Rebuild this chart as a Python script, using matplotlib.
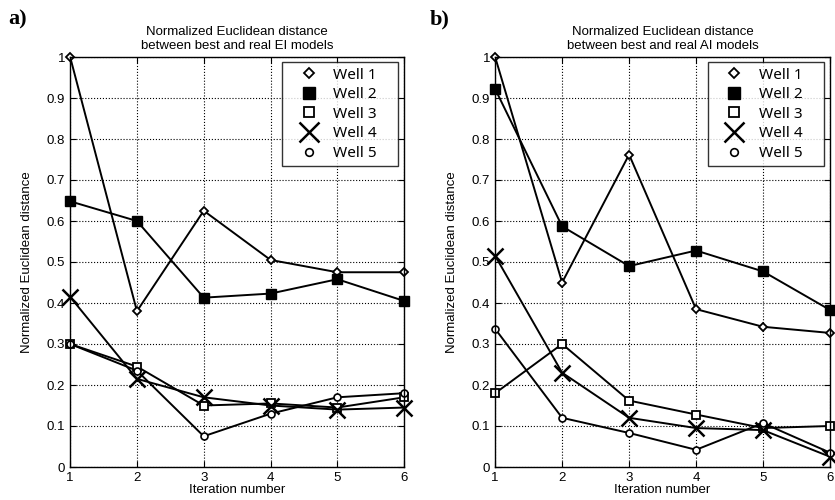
import numpy as np
import matplotlib.pyplot as plt

plt.rcParams['font.family'] = ['Liberation Sans', 'DejaVu Sans']

iterations = [1, 2, 3, 4, 5, 6]
labels = ['Well 1', 'Well 2', 'Well 3', 'Well 4', 'Well 5']

# EI models (panel a)
ei_well1 = [1.0, 0.38, 0.625, 0.505, 0.475, 0.475]
ei_well2 = [0.648, 0.60, 0.413, 0.423, 0.458, 0.405]
ei_well3 = [0.30, 0.245, 0.15, 0.155, 0.145, 0.17]
ei_well4 = [0.415, 0.215, 0.17, 0.15, 0.14, 0.145]
ei_well5 = [0.30, 0.235, 0.075, 0.13, 0.17, 0.18]

# AI models (panel b)
ai_well1 = [1.0, 0.45, 0.762, 0.385, 0.342, 0.327]
ai_well2 = [0.922, 0.587, 0.49, 0.528, 0.477, 0.383]
ai_well3 = [0.18, 0.30, 0.162, 0.128, 0.095, 0.10]
ai_well4 = [0.515, 0.23, 0.12, 0.095, 0.09, 0.025]
ai_well5 = [0.337, 0.12, 0.083, 0.042, 0.107, 0.035]

styles = [dict(marker='D', ms=4.5, mfc='white', mew=1.3),
          dict(marker='s', ms=7, mfc='black'),
          dict(marker='s', ms=6, mfc='white', mew=1.3),
          dict(marker='x', ms=11, mew=1.8),
          dict(marker='o', ms=5, mfc='white', mew=1.2)]
leg_sizes = [5.5, 8, 7, 14, 5.5]

fig = plt.figure(figsize=(8.35, 5), dpi=100)
ax1 = fig.add_axes([0.084, 0.066, 0.400, 0.820])
ax2 = fig.add_axes([0.593, 0.066, 0.401, 0.820])

panels = [(ax1, [ei_well1, ei_well2, ei_well3, ei_well4, ei_well5],
           'Normalized Euclidean distance\nbetween best and real EI models'),
          (ax2, [ai_well1, ai_well2, ai_well3, ai_well4, ai_well5],
           'Normalized Euclidean distance\nbetween best and real AI models')]

for ax, series, title in panels:
    for vals, lab, st in zip(series, labels, styles):
        ax.plot(iterations, vals, color='black', lw=1.4, mec='black',
                label=lab + '    ', clip_on=False, **st)
    ax.set_xlim(1, 6)
    ax.set_ylim(0, 1)
    ax.set_xticks(iterations)
    ax.set_yticks(np.arange(0, 1.01, 0.1))
    ax.set_yticklabels(['0', '0.1', '0.2', '0.3', '0.4', '0.5', '0.6', '0.7', '0.8', '0.9', '1'])
    ax.grid(True, linestyle=':', color='black', lw=0.8)
    ax.tick_params(direction='in', labelsize=9.5, length=4, top=True, right=True)
    for sp in ax.spines.values():
        sp.set_linewidth(1.0)
    ax.set_title(title, fontsize=9.5, pad=6)
    ax.set_xlabel('Iteration number', fontsize=9.5, labelpad=0)
    ax.set_ylabel('Normalized Euclidean distance', fontsize=9.5, labelpad=10)
    leg = ax.legend(loc='upper right', frameon=True, fancybox=False,
                    prop={'family': 'Noto Sans', 'size': 11},
                    edgecolor='black', handlelength=2.8, handletextpad=0.2,
                    borderaxespad=0.4, labelspacing=0.3, borderpad=0.35,
                    bbox_to_anchor=(1.0, 1.002))
    for h, s in zip(leg.get_lines(), leg_sizes):
        h.set_linestyle('none')
        h.set_markersize(s)
    leg.get_frame().set_linewidth(1.0)

fig.text(0.010, 0.952, 'a)', fontsize=16, fontweight='bold', family='Liberation Serif')
fig.text(0.514, 0.952, 'b)', fontsize=16, fontweight='bold', family='Liberation Serif')

fig.savefig('out.png', dpi=100)
